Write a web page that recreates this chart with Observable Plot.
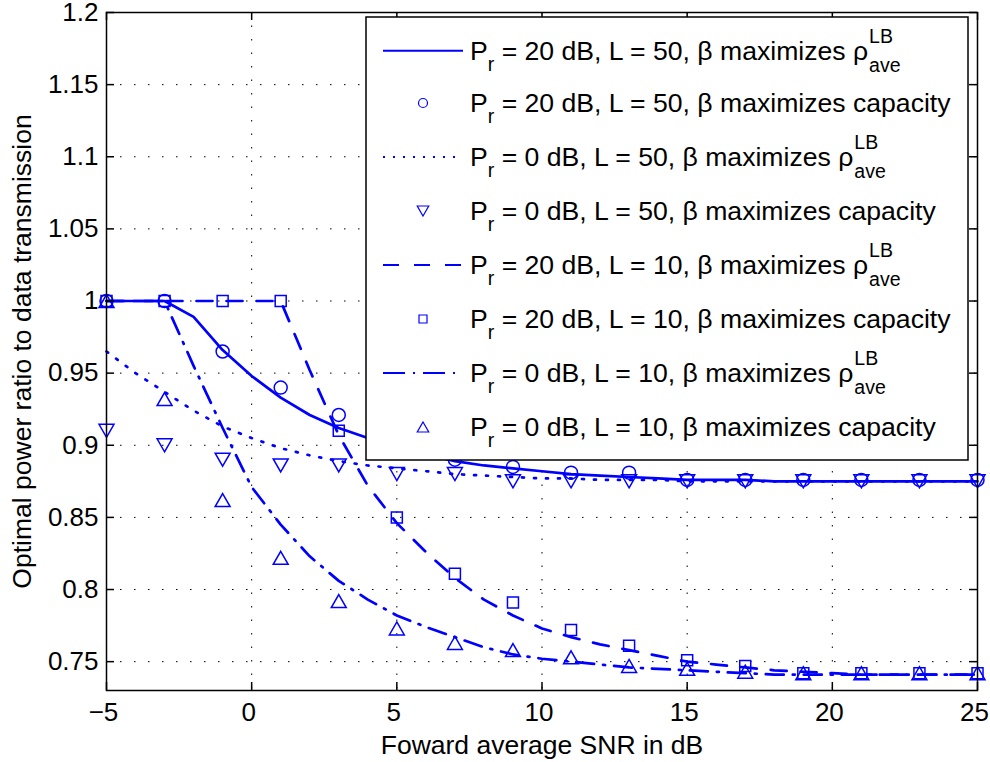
<!DOCTYPE html>
<html>
<head>
<meta charset="utf-8">
<script src="https://cdn.jsdelivr.net/npm/d3@7"></script>
<script src="https://cdn.jsdelivr.net/npm/@observablehq/plot@0.6"></script>
<style>
  body { margin: 0; background: #fff; }
  #chart { width: 990px; height: 762px; }
  svg text { white-space: pre; }
</style>
</head>
<body>
<div id="chart"></div>
<script>
// ---------------- DATA ----------------
const snrLine = [-5,-4,-3,-2,-1,0,1,2,3,4,5,6,7,8,9,10,11,12,13,14,15,16,17,18,19,20,21,22,23,24,25];
// Pr = 20 dB, L = 50, beta maximizes rho_ave^LB (solid)
const rho20L50 = [1.0,1.0,1.0,0.989,0.966,0.948,0.933,0.921,0.912,0.905,0.899,0.894,0.889,0.886,0.884,0.882,0.880,0.879,0.878,0.877,0.876,0.876,0.876,0.875,0.875,0.875,0.875,0.875,0.875,0.875,0.875];
// Pr = 0 dB, L = 50, beta maximizes rho_ave^LB (dotted)
const rho0L50 = [0.965,0.950,0.937,0.924,0.913,0.905,0.898,0.893,0.889,0.886,0.884,0.882,0.880,0.879,0.878,0.877,0.877,0.876,0.876,0.876,0.875,0.875,0.875,0.875,0.875,0.875,0.875,0.875,0.875,0.875,0.875];
// Pr = 20 dB, L = 10, beta maximizes rho_ave^LB (dashed)
const rho20L10 = [1.0,1.0,1.0,1.0,1.0,1.0,1.0,0.952,0.907,0.872,0.846,0.826,0.808,0.793,0.782,0.773,0.767,0.762,0.758,0.754,0.750,0.748,0.746,0.744,0.743,0.742,0.741,0.741,0.741,0.741,0.741];
// Pr = 0 dB, L = 10, beta maximizes rho_ave^LB (dash-dot)
const rho0L10 = [1.0,1.0,1.0,0.955,0.912,0.871,0.845,0.823,0.806,0.793,0.782,0.774,0.767,0.760,0.755,0.752,0.750,0.748,0.746,0.745,0.744,0.743,0.742,0.741,0.741,0.741,0.741,0.741,0.741,0.741,0.741];

const snrMarkers = [-5,-3,-1,1,3,5,7,9,11,13,15,17,19,21,23,25];
const cap20L50 = [1.0,1.0,0.965,0.94,0.921,0.90,0.89,0.885,0.881,0.881,0.876,0.876,0.876,0.876,0.876,0.876]; // circles
const cap0L50  = [0.91,0.90,0.89,0.886,0.886,0.88,0.88,0.875,0.875,0.875,0.875,0.875,0.875,0.875,0.875,0.875]; // down triangles
const cap20L10 = [1.0,1.0,1.0,1.0,0.91,0.85,0.811,0.791,0.772,0.761,0.751,0.747,0.742,0.742,0.742,0.742]; // squares
const cap0L10  = [1.0,0.932,0.862,0.822,0.792,0.773,0.763,0.758,0.753,0.747,0.745,0.743,0.742,0.742,0.742,0.742]; // up triangles

const xTicks = [-5,0,5,10,15,20,25];
const xTickLabels = ["\u22125","0","5","10","15","20","25"];
const yTicks = [0.75,0.8,0.85,0.9,0.95,1,1.05,1.1,1.15,1.2];
const yTickLabels = ["0.75","0.8","0.85","0.9","0.95","1","1.05","1.1","1.15","1.2"];

const xLabel = "Foward average SNR in dB";
const yLabel = "Optimal power ratio to data transmission";

const legendPr  = ["20","20","0","0","20","20","0","0"];
const legendL   = ["50","50","50","50","10","10","10","10"];
const legendObj = ["rho","capacity","rho","capacity","rho","capacity","rho","capacity"];

// ---------------- LAYOUT / STYLE ----------------
const W = 990, H = 762;
const ML = 106, MR = 13, MT = 12, MB = 72;
const plotW = W - ML - MR, plotH = H - MT - MB;
const BLUE = "#0000ff";
const FONT = "'Liberation Sans', Arial, Helvetica, sans-serif";
const TICK = 8;

// symbols (bbox-centred like MATLAB markers)
const symSquare = { draw(ctx, size) { const r = Math.sqrt(size / Math.PI); ctx.rect(-r, -r, 2 * r, 2 * r); } };
const symTriUp = { draw(ctx, size) { const r = Math.sqrt(size / Math.PI); ctx.moveTo(0, -r); ctx.lineTo(r * 1.15, r); ctx.lineTo(-r * 1.15, r); ctx.closePath(); } };
const symTriDown = { draw(ctx, size) { const r = Math.sqrt(size / Math.PI); ctx.moveTo(0, r); ctx.lineTo(r * 1.15, -r); ctx.lineTo(-r * 1.15, -r); ctx.closePath(); } };

const lineStyle = { stroke: BLUE, strokeWidth: 2.7, strokeLinejoin: "round" };
const dotStyle = { stroke: BLUE, fill: "none", strokeWidth: 1.5 };

const svg = Plot.plot({
  width: W, height: H,
  marginLeft: ML, marginRight: MR, marginTop: MT, marginBottom: MB,
  style: { fontFamily: FONT, fontSize: "26px", color: "black", background: "white" },
  x: { domain: [-5, 25] },
  y: { domain: [0.73, 1.2] },
  marks: [
    // dotted grid
    Plot.ruleX(xTicks, { x: d => d, stroke: "black", strokeWidth: 1, strokeDasharray: "1.5,12" }),
    Plot.ruleY(yTicks, { y: d => d, stroke: "black", strokeWidth: 1, strokeDasharray: "1.5,12.5" }),
    // data lines
    Plot.line(snrLine, { x: d => d, y: (d, i) => rho20L50[i], ...lineStyle }),
    Plot.dot(snrMarkers, { x: d => d, y: (d, i) => cap20L50[i], r: 6.5, ...dotStyle }),
    Plot.line(snrLine, { x: d => d, y: (d, i) => rho0L50[i], ...lineStyle, strokeDasharray: "2,10" }),
    Plot.dot(snrMarkers, { x: d => d, y: (d, i) => cap0L50[i], r: 6.5, symbol: symTriDown, ...dotStyle }),
    Plot.line(snrLine, { x: d => d, y: (d, i) => rho20L10[i], ...lineStyle, strokeDasharray: "16,14" }),
    Plot.dot(snrMarkers, { x: d => d, y: (d, i) => cap20L10[i], r: 5.5, symbol: symSquare, ...dotStyle }),
    Plot.line(snrLine, { x: d => d, y: (d, i) => rho0L10[i], ...lineStyle, strokeDasharray: "18,9,2,9" }),
    Plot.dot(snrMarkers, { x: d => d, y: (d, i) => cap0L10[i], r: 6.5, symbol: symTriUp, ...dotStyle }),
    // frame and inward ticks
    Plot.frame({ stroke: "black", strokeWidth: 1.5 }),
    Plot.tickY(yTicks, { y: d => d, stroke: "black", strokeWidth: 1.5, insetRight: plotW - TICK }),
    Plot.tickY(yTicks, { y: d => d, stroke: "black", strokeWidth: 1.5, insetLeft: plotW - TICK }),
    Plot.tickX(xTicks, { x: d => d, stroke: "black", strokeWidth: 1.5, insetTop: plotH - TICK }),
    Plot.tickX(xTicks, { x: d => d, stroke: "black", strokeWidth: 1.5, insetBottom: plotH - TICK }),
    // tick labels
    Plot.axisX(xTicks, { tickSize: 0, tickPadding: 12, dx: -3, fontSize: 26, label: null,
      tickFormat: d => xTickLabels[xTicks.indexOf(d)] }),
    Plot.axisY(yTicks, { tickSize: 0, tickPadding: 8, fontSize: 26, label: null,
      tickFormat: d => yTickLabels[yTicks.indexOf(d)] }),
    // axis titles
    Plot.text([xLabel], { text: d => d, frameAnchor: "bottom", dy: 55, textAnchor: "middle", lineAnchor: "middle", fontSize: 26.5, fill: "black" }),
    Plot.text([yLabel], { text: d => d, frameAnchor: "left", dx: -84, rotate: -90, textAnchor: "middle", lineAnchor: "middle", fontSize: 26.5, fill: "black" })
  ]
});
document.getElementById("chart").appendChild(svg);

// ---------------- LEGEND (inside the axes, on top) ----------------
const LG = { x: 366, y: 17, w: 602, h: 443 };
const rowY = [50.7, 103, 157, 211, 265, 319, 373, 427];
const sampleX1 = 383, sampleX2 = 463, sampleMid = 423, textX = 470;
const lineDash = [null, "2,8", "16,15", "22,8,2,8"];
const LFS = 26.6, SFS = 19.5;

const lg = d3.select(svg).append("g").attr("font-family", FONT).attr("fill", "black").attr("text-anchor", "start");
lg.append("rect").attr("x", LG.x).attr("y", LG.y).attr("width", LG.w).attr("height", LG.h)
  .attr("fill", "white").attr("stroke", "black").attr("stroke-width", 1.5);

const legendSym = [null, null, null, symTriDown, null, symSquare, null, symTriUp];
legendObj.forEach((obj, i) => {
  const cy = rowY[i];
  if (obj === "rho") {
    const dash = lineDash[Math.floor(i / 2)];
    const ln = lg.append("line").attr("x1", sampleX1).attr("x2", sampleX2).attr("y1", cy).attr("y2", cy)
      .attr("stroke", BLUE).attr("stroke-width", 2);
    if (dash) ln.attr("stroke-dasharray", dash);
  } else if (i === 1) {
    lg.append("circle").attr("cx", sampleMid).attr("cy", cy).attr("r", 4.5)
      .attr("fill", "none").attr("stroke", BLUE).attr("stroke-width", 1.2);
  } else {
    const p = d3.path();
    const r = i === 5 ? 4 : 5;
    legendSym[i].draw(p, r * r * Math.PI);
    lg.append("path").attr("d", p.toString()).attr("transform", `translate(${sampleMid},${cy})`)
      .attr("fill", "none").attr("stroke", BLUE).attr("stroke-width", 1.2);
  }
  const base = cy + 9;
  const t = lg.append("text").attr("x", textX).attr("y", base).attr("font-size", LFS);
  t.append("tspan").text("P");
  t.append("tspan").attr("font-size", SFS).attr("dy", 11).text("r");
  t.append("tspan").attr("dy", -11).text(` = ${legendPr[i]} dB, L = ${legendL[i]}, \u03b2 maximizes ${obj === "rho" ? "\u03c1" : "capacity"}`);
  if (obj === "rho") {
    const w = t.node().getComputedTextLength();
    lg.append("text").attr("x", textX + w + 1).attr("y", base - 17).attr("font-size", SFS).text("LB");
    lg.append("text").attr("x", textX + w + 1).attr("y", base + 12).attr("font-size", SFS).text("ave");
  }
});
</script>
</body>
</html>
